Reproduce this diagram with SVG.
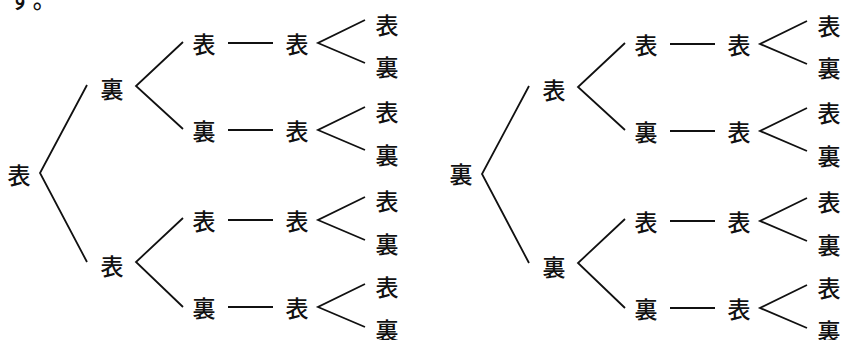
<svg xmlns="http://www.w3.org/2000/svg" width="842" height="340" viewBox="0 0 842 340">
<defs>
<style>
text{font-family:"Noto Sans CJK JP","Noto Sans CJK SC",sans-serif;font-size:23px;font-weight:500;fill:#111111;text-anchor:middle;dominant-baseline:central}
.c{fill:none;stroke:#111111;stroke-width:1.8;stroke-linejoin:miter}
</style>
<g id="half">
<g class="conn">
<polyline class="c" points="87,85 40,173 87,262"/>
<polyline class="c" points="183,42 136,86 183,129"/>
<polyline class="c" points="183,218 136,262 183,307"/>
<line class="c" x1="228" y1="43" x2="273" y2="43"/>
<line class="c" x1="228" y1="130" x2="273" y2="130"/>
<line class="c" x1="228" y1="220" x2="273" y2="220"/>
<line class="c" x1="228" y1="307" x2="273" y2="307"/>
<polyline class="c" points="365,20 318,43 365,63"/>
<polyline class="c" points="365,107 318,130 365,150"/>
<polyline class="c" points="365,197 318,220 365,240"/>
<polyline class="c" points="365,284 318,307 365,327"/>
</g>
<g id="l2a"><text x="204" y="43">表</text></g>
<g id="l2b"><text x="204" y="130">裏</text></g>
<g id="l2c"><text x="204" y="220">表</text></g>
<g id="l2d"><text x="204" y="307">裏</text></g>
<g id="l3a"><text x="297" y="43">表</text></g>
<g id="l3b"><text x="297" y="130">表</text></g>
<g id="l3c"><text x="297" y="220">表</text></g>
<g id="l3d"><text x="297" y="307">表</text></g>
<g id="lf1"><text x="387" y="24">表</text></g>
<g id="lf2"><text x="387" y="66">裏</text></g>
<g id="lf3"><text x="387" y="111">表</text></g>
<g id="lf4"><text x="387" y="154">裏</text></g>
<g id="lf5"><text x="387" y="200">表</text></g>
<g id="lf6"><text x="387" y="243">裏</text></g>
<g id="lf7"><text x="387" y="286">表</text></g>
<g id="lf8"><text x="387" y="329">裏</text></g>
</g>
</defs>
<rect width="842" height="340" fill="#ffffff"/>
<text x="9" y="8" style="text-anchor:start;dominant-baseline:auto;letter-spacing:3px">す。</text>
<g id="treeLeft">
<use href="#half"/>
<g id="rootL"><text x="19" y="174">表</text></g>
<g id="l1aL"><text x="112" y="88">裏</text></g>
<g id="l1bL"><text x="112" y="265">表</text></g>
</g>
<g id="treeRight" transform="translate(442,1)">
<use href="#half"/>
<g id="rootR"><text x="19" y="172">裏</text></g>
<g id="l1aR"><text x="112" y="88">表</text></g>
<g id="l1bR"><text x="112" y="265">裏</text></g>
</g>
</svg>
